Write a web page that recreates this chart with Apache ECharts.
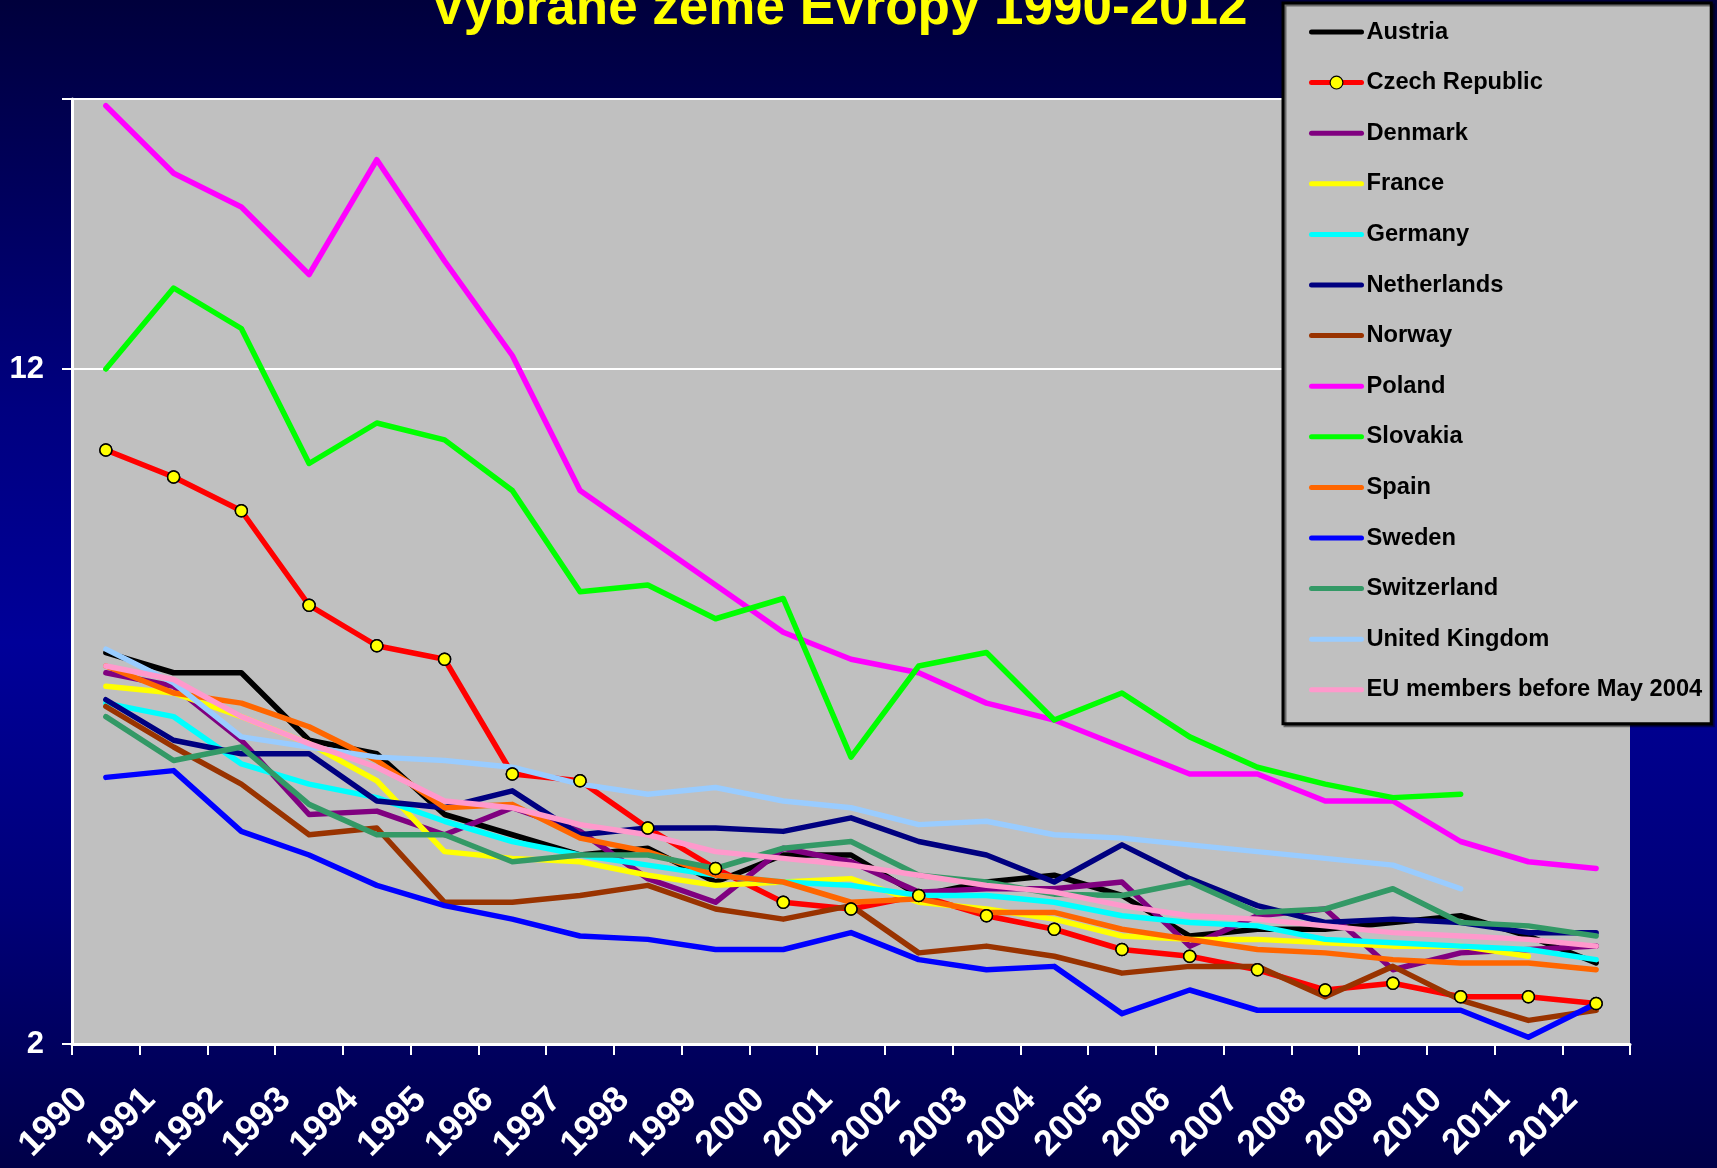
<!DOCTYPE html>
<html>
<head>
<meta charset="utf-8">
<script src="https://cdn.jsdelivr.net/npm/echarts@6/dist/echarts.min.js"></script>
<style>
html,body{margin:0;padding:0;}
body{width:1717px;height:1168px;overflow:hidden;
background:linear-gradient(to bottom,#00003c 0%,#000050 10%,#000080 35%,#000099 55%,#000078 78%,#000048 100%);}
#chart{width:1717px;height:1168px;}
</style>
</head>
<body>
<div id="chart"></div>
<script>
const titleText = 'Vybrané země Evropy 1990-2012';
const years = ['1990','1991','1992','1993','1994','1995','1996','1997','1998','1999','2000','2001','2002','2003','2004','2005','2006','2007','2008','2009','2010','2011','2012'];
const yTickLabels = [2, 12];

const austria     = [7.8, 7.5, 7.5, 6.5, 6.3, 5.4, 5.1, 4.8, 4.9, 4.4, 4.8, 4.8, 4.2, 4.4, 4.5, 4.2, 3.6, 3.7, 3.7, 3.8, 3.9, 3.6, 3.2];
const czech       = [10.8, 10.4, 9.9, 8.5, 7.9, 7.7, 6.0, 5.9, 5.2, 4.6, 4.1, 4.0, 4.2, 3.9, 3.7, 3.4, 3.3, 3.1, 2.8, 2.9, 2.7, 2.7, 2.6];
const denmark     = [7.5, 7.3, 6.5, 5.4, 5.45, 5.1, 5.5, 5.15, 4.45, 4.1, 4.9, 4.7, 4.25, 4.3, 4.3, 4.4, 3.45, 3.9, 4.0, 3.1, 3.35, 3.4, 3.45];
const france      = [7.3, 7.2, 6.85, 6.45, 5.9, 4.85, 4.75, 4.7, 4.5, 4.35, 4.4, 4.45, 4.1, 4.0, 3.85, 3.6, 3.55, 3.55, 3.5, 3.45, 3.45, 3.3, null];
const germany     = [7.05, 6.85, 6.15, 5.85, 5.65, 5.3, 5.0, 4.8, 4.65, 4.5, 4.4, 4.35, 4.2, 4.2, 4.1, 3.9, 3.8, 3.75, 3.55, 3.5, 3.45, 3.4, 3.25];
const netherlands = [7.1, 6.5, 6.3, 6.3, 5.6, 5.5, 5.75, 5.1, 5.2, 5.2, 5.15, 5.35, 5.0, 4.8, 4.4, 4.95, 4.45, 4.05, 3.8, 3.85, 3.8, 3.65, 3.65];
const norway      = [7.0, 6.4, 5.85, 5.1, 5.2, 4.1, 4.1, 4.2, 4.35, 4.0, 3.85, 4.05, 3.35, 3.45, 3.3, 3.05, 3.15, 3.15, 2.7, 3.15, 2.65, 2.35, 2.5];
const poland      = [15.9, 14.9, 14.4, 13.4, 15.1, 13.6, 12.2, 10.2, 9.5, 8.8, 8.1, 7.7, 7.5, 7.05, 6.8, 6.4, 6.0, 6.0, 5.6, 5.6, 5.0, 4.7, 4.6];
const slovakia    = [12.0, 13.2, 12.6, 10.6, 11.2, 10.95, 10.2, 8.7, 8.8, 8.3, 8.6, 6.25, 7.6, 7.8, 6.8, 7.2, 6.55, 6.1, 5.85, 5.65, 5.7, null, null];
const spain       = [7.6, 7.2, 7.05, 6.7, 6.2, 5.5, 5.55, 5.05, 4.85, 4.5, 4.4, 4.1, 4.15, 3.95, 3.95, 3.7, 3.55, 3.4, 3.35, 3.25, 3.2, 3.2, 3.1];
const sweden      = [5.95, 6.05, 5.15, 4.8, 4.35, 4.05, 3.85, 3.6, 3.55, 3.4, 3.4, 3.65, 3.25, 3.1, 3.15, 2.45, 2.8, 2.5, 2.5, 2.5, 2.5, 2.1, 2.6];
const switzerland = [6.85, 6.2, 6.4, 5.55, 5.1, 5.1, 4.7, 4.8, 4.8, 4.6, 4.9, 5.0, 4.5, 4.4, 4.22, 4.2, 4.4, 3.95, 4.0, 4.3, 3.8, 3.75, 3.6];
const uk          = [7.85, 7.35, 6.55, 6.4, 6.25, 6.2, 6.1, 5.85, 5.7, 5.8, 5.6, 5.5, 5.25, 5.3, 5.1, 5.05, 4.95, 4.85, 4.75, 4.65, 4.3, null, null];
const eu          = [7.6, 7.4, 6.85, 6.45, 6.1, 5.6, 5.5, 5.25, 5.1, 4.85, 4.75, 4.65, 4.5, 4.35, 4.25, 4.05, 3.9, 3.85, 3.75, 3.65, 3.6, 3.55, 3.45];

const seriesNames = ['Austria','Czech Republic','Denmark','France','Germany','Netherlands','Norway','Poland','Slovakia','Spain','Sweden','Switzerland','United Kingdom','EU members before May 2004'];
const seriesData  = [austria, czech, denmark, france, germany, netherlands, norway, poland, slovakia, spain, sweden, switzerland, uk, eu];
const seriesColors = ['#000000','#FF0000','#800080','#FFFF00','#00FFFF','#000080','#993300','#FF00FF','#00FF00','#FF6600','#0000FF','#339966','#99CCFF','#FF99CC'];

const FONT = '"Liberation Sans", Arial, sans-serif';
const CZ = 'Czech Republic';

const series = seriesNames.map((name, i) => {
  const isCz = name === CZ;
  return {
    name: name,
    type: 'line',
    data: seriesData[i],
    connectNulls: false,
    symbol: isCz ? 'circle' : 'none',
    symbolSize: 12,
    showSymbol: isCz,
    lineStyle: { color: seriesColors[i], width: 5.5, cap: 'round', join: 'round' },
    itemStyle: isCz ? { color: '#FFFF00', borderColor: '#000', borderWidth: 1.5 } : { color: seriesColors[i] },
    emphasis: { disabled: true },
    animation: false,
    z: 2
  };
});
series.push({
  name: 'czMarkers',
  type: 'line',
  data: czech,
  symbol: 'circle',
  symbolSize: 12,
  lineStyle: { opacity: 0, width: 0 },
  itemStyle: { color: '#FFFF00', borderColor: '#000', borderWidth: 1.5 },
  emphasis: { disabled: true },
  animation: false,
  z: 5
});

const legendData = seriesNames.map(n => n === CZ
  ? { name: n, itemStyle: { color: '#FFFF00', borderColor: '#000', borderWidth: 1.2 } }
  : { name: n, itemStyle: { color: 'rgba(0,0,0,0)', borderColor: 'rgba(0,0,0,0)', borderWidth: 0, opacity: 0 } });

const chart = echarts.init(document.getElementById('chart'), null, { renderer: 'canvas' });
chart.setOption({
  backgroundColor: 'transparent',
  animation: false,
  textStyle: { fontFamily: FONT },
  grid: { left: 72, right: 87, top: 99, bottom: 124, show: true, backgroundColor: '#C0C0C0', borderWidth: 0 },
  graphic: [{
    type: 'text', x: 839, y: 36, z: 100,
    style: { text: titleText, fill: '#FFFF00', font: 'bold 53px ' + FONT, textAlign: 'center', textVerticalAlign: 'bottom',
      shadowColor: 'rgba(0,0,0,0.6)', shadowOffsetX: 2, shadowOffsetY: 2, shadowBlur: 0 }
  }],
  legend: {
    data: legendData,
    orient: 'vertical',
    left: 1283, top: 3,
    padding: [17, 9, 22, 26],
    itemWidth: 50, itemHeight: 16, itemGap: 26.6,
    lineStyle: { width: 5 },
    backgroundColor: '#C0C0C0', borderColor: '#000', borderWidth: 3,
    shadowColor: 'rgba(0,0,0,0.45)', shadowOffsetX: 2, shadowOffsetY: 2,
    textStyle: { color: '#000', fontWeight: 'bold', fontSize: 23.7, fontFamily: FONT, lineHeight: 23,
      textShadowColor: 'rgba(0,0,0,0.25)', textShadowOffsetX: 1, textShadowOffsetY: 1 },
    selectedMode: false,
    z: 10
  },
  xAxis: {
    type: 'category', data: years, boundaryGap: true,
    axisLine: { show: true, lineStyle: { color: '#FFFFFF', width: 3 } },
    axisTick: { show: true, length: 11, alignWithLabel: false, interval: 0, lineStyle: { color: '#FFFFFF', width: 2 } },
    axisLabel: { interval: 0, rotate: 45, color: '#FFFFFF', fontWeight: 'bold', fontSize: 36, fontFamily: FONT,
      margin: 26, padding: [0, 34, 0, 0] },
    splitLine: { show: false }
  },
  yAxis: {
    type: 'value', min: 2, max: 16, interval: 10,
    axisLine: { show: true, lineStyle: { color: '#FFFFFF', width: 3 } },
    axisTick: { show: true, length: 10, lineStyle: { color: '#FFFFFF', width: 2 } },
    axisLabel: { color: '#FFFFFF', fontWeight: 'bold', fontSize: 31, fontFamily: FONT, margin: 28,
      formatter: v => yTickLabels.indexOf(v) >= 0 ? String(v) : '' },
    splitLine: { show: true, lineStyle: { color: '#FFFFFF', width: 2 } }
  },
  series: series
});
</script>
</body>
</html>
